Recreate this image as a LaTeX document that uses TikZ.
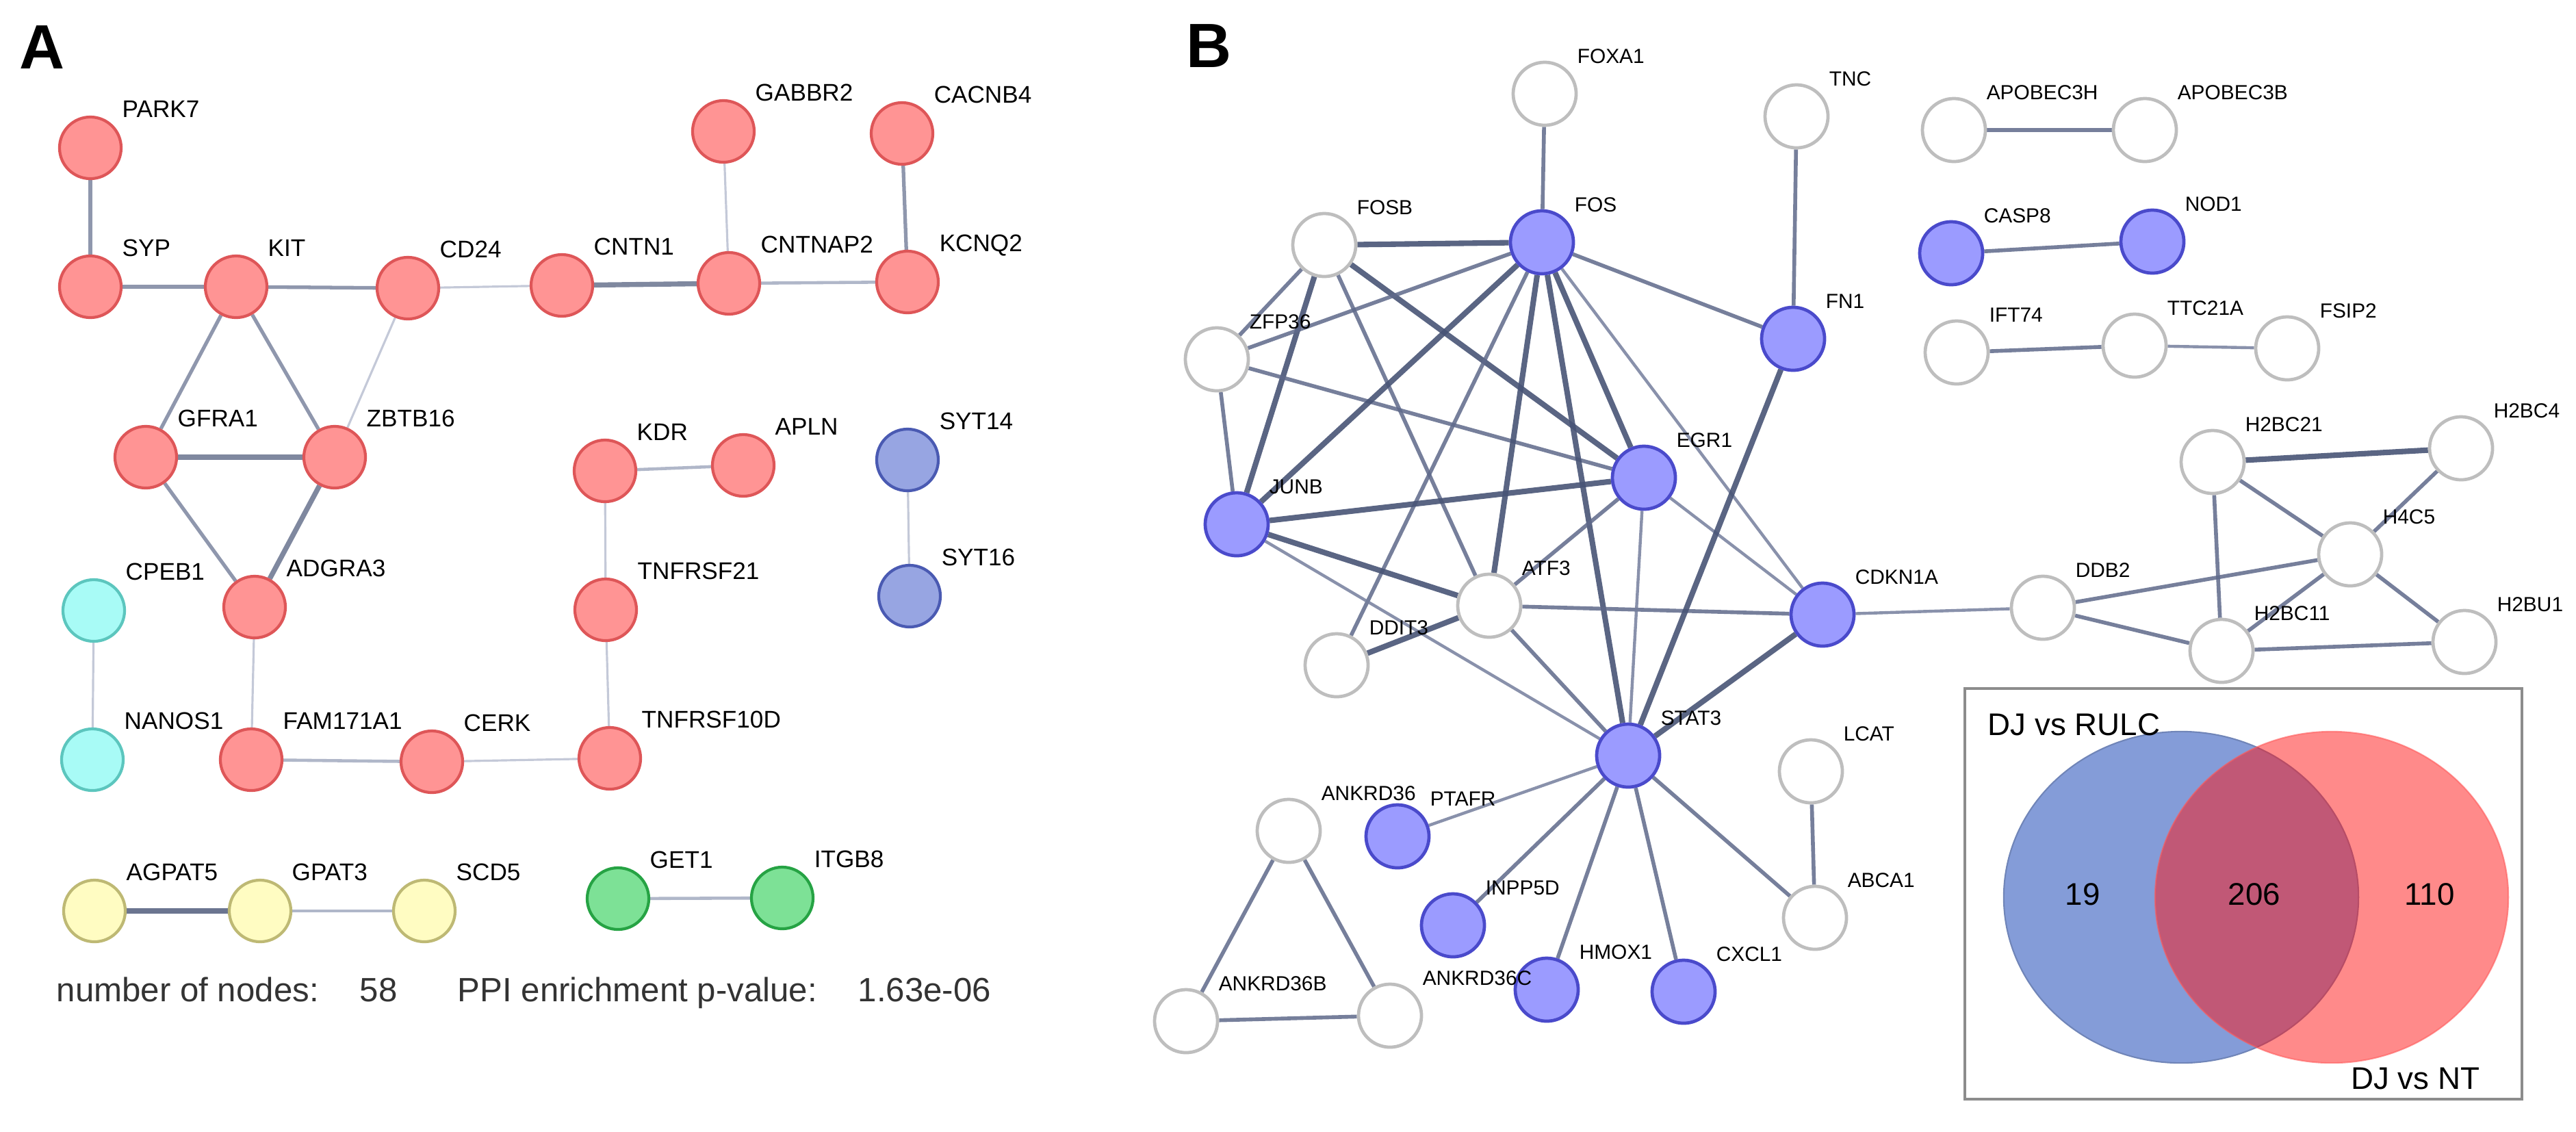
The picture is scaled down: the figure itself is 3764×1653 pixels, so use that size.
\documentclass[tikz,border=0pt]{standalone}
\usepackage{fontspec}
\setmainfont{Liberation Sans}
\usepackage{xcolor}
\usepackage{tikz}
\usetikzlibrary{calc}
\usetikzlibrary{positioning}
\usetikzlibrary{shapes.geometric}

\definecolor{redfill}{RGB}{255,148,148}
\definecolor{redline}{RGB}{222,86,88}
\definecolor{cyanfill}{RGB}{168,251,246}
\definecolor{cyanline}{RGB}{92,198,190}
\definecolor{slatefill}{RGB}{151,165,226}
\definecolor{slateline}{RGB}{74,90,178}
\definecolor{yelfill}{RGB}{255,252,194}
\definecolor{yelline}{RGB}{190,185,116}
\definecolor{grnfill}{RGB}{125,225,150}
\definecolor{grnline}{RGB}{38,163,68}
\definecolor{bluefill}{RGB}{155,155,255}
\definecolor{blueline}{RGB}{74,74,203}
\definecolor{greyline}{RGB}{190,190,190}
\definecolor{edgeA0}{RGB}{107,117,144}
\definecolor{edgeA1}{RGB}{127,136,159}
\definecolor{edgeA2}{RGB}{143,151,173}
\definecolor{edgeA3}{RGB}{176,183,201}
\definecolor{edgeA4}{RGB}{196,201,216}
\definecolor{edgeB1}{RGB}{72,84,118}
\definecolor{edgeB2}{RGB}{94,105,138}
\definecolor{edgeB3}{RGB}{116,126,156}
\definecolor{vennblue}{RGB}{132,156,216}
\definecolor{vennred}{RGB}{255,21,21}

\pgfdeclarelayer{edges}
\pgfsetlayers{edges,main}

\tikzset{>=latex}
\tikzstyle{geneA} = [circle, inner sep = 0, minimum size = 0.9cm, line width = 1.2pt]
\tikzstyle{redg} = [geneA, draw = redline, fill = redfill]
\tikzstyle{cyang} = [geneA, draw = cyanline, fill = cyanfill]
\tikzstyle{slateg} = [geneA, draw = slateline, fill = slatefill]
\tikzstyle{yelg} = [geneA, draw = yelline, fill = yelfill]
\tikzstyle{grng} = [geneA, draw = grnline, fill = grnfill]
\tikzstyle{geneB} = [circle, inner sep = 0, minimum size = 0.92cm, line width = 1.35pt]
\tikzstyle{blueg} = [geneB, draw = blueline, fill = bluefill]
\tikzstyle{greyg} = [geneB, draw = greyline, fill = white]
\tikzset{tagA/.style = {label = {[font = \fontsize{10}{12}\selectfont, anchor = base west, inner sep = 0, xshift = 0.46cm, yshift = -0.03cm]90:#1}}}
\tikzset{tagB/.style = {label = {[font = \fontsize{8.5}{10}\selectfont, anchor = base west, inner sep = 0, xshift = 0.47cm, yshift = -0.04cm]90:#1}}}
\tikzstyle{ea0} = [draw = edgeA0, line width = 2.3pt]
\tikzstyle{ea1} = [draw = edgeA1, line width = 2.1pt]
\tikzstyle{ea2} = [draw = edgeA2, line width = 1.5pt]
\tikzstyle{ea3} = [draw = edgeA3, line width = 1.3pt]
\tikzstyle{ea4} = [draw = edgeA4, line width = 0.9pt]
\tikzstyle{eb1} = [draw = edgeB1, line width = 2.3pt, draw opacity = 0.9]
\tikzstyle{eb2} = [draw = edgeB2, line width = 1.6pt, draw opacity = 0.85]
\tikzstyle{eb3} = [draw = edgeB3, line width = 1.25pt, draw opacity = 0.85]
\tikzstyle{panel} = [font = \fontsize{26}{28}\selectfont\bfseries, inner sep = 0, anchor = base west]
\tikzstyle{stat} = [font = \fontsize{14}{16}\selectfont, text = black!80, inner sep = 0, anchor = base west]
\tikzstyle{venn} = [font = \fontsize{13}{15}\selectfont, inner sep = 0]

\begin{document}
\begin{tikzpicture}[x = 0.01cm, y = -0.01cm]
\useasboundingbox (0, 0) rectangle (3764, 1653);

% panel A
\node [panel] (labA) at (28, 100) {A};
\begin{scope}
\clip (0, 0) rectangle (1508, 1653);
\node [redg, tagA = PARK7] (PARK7) at (132, 216) {};
\node [redg, tagA = SYP] (SYP) at (132, 419) {};
\node [redg, tagA = KIT] (KIT) at (345, 419) {};
\node [redg, tagA = CD24] (CD24) at (596, 421) {};
\node [redg, tagA = CNTN1] (CNTN1) at (821, 417) {};
\node [redg, tagA = CNTNAP2] (CNTNAP2) at (1065, 414) {};
\node [redg, tagA = GABBR2] (GABBR2) at (1057, 192) {};
\node [redg, tagA = CACNB4] (CACNB4) at (1318, 195) {};
\node [redg, tagA = KCNQ2] (KCNQ2) at (1326, 412) {};
\node [redg, tagA = GFRA1] (GFRA1) at (213, 668) {};
\node [redg, tagA = ZBTB16] (ZBTB16) at (489, 668) {};
\node [redg, tagA = ADGRA3] (ADGRA3) at (372, 887) {};
\node [cyang, tagA = CPEB1] (CPEB1) at (137, 892) {};
\node [cyang, tagA = NANOS1] (NANOS1) at (135, 1110) {};
\node [redg, tagA = FAM171A1] (FAM171A1) at (367, 1110) {};
\node [redg, tagA = CERK] (CERK) at (631, 1113) {};
\node [redg, tagA = TNFRSF10D] (TNFRSF10D) at (891, 1108) {};
\node [redg, tagA = KDR] (KDR) at (884, 688) {};
\node [redg, tagA = APLN] (APLN) at (1086, 680) {};
\node [redg, tagA = TNFRSF21] (TNFRSF21) at (885, 891) {};
\node [slateg, tagA = SYT14] (SYT14) at (1326, 672) {};
\node [slateg, tagA = SYT16] (SYT16) at (1329, 871) {};
\node [yelg, tagA = AGPAT5] (AGPAT5) at (138, 1331) {};
\node [yelg, tagA = GPAT3] (GPAT3) at (380, 1331) {};
\node [yelg, tagA = SCD5] (SCD5) at (620, 1331) {};
\node [grng, tagA = GET1] (GET1) at (903, 1313) {};
\node [grng, tagA = ITGB8] (ITGB8) at (1143, 1312) {};
\end{scope}
\node [stat] (nodesA) at (82, 1463) {number of nodes:};
\node [stat] (nodesV) at (525, 1463) {58};
\node [stat] (ppiA) at (668, 1463) {PPI enrichment p-value:};
\node [stat] (ppiV) at (1253, 1463) {1.63e-06};

\begin{pgfonlayer}{edges}
\draw [ea2] (PARK7) to (SYP);
\draw [ea2] (SYP) to (KIT);
\draw [ea2] (KIT) to (CD24);
\draw [ea4] (CD24) to (CNTN1);
\draw [ea1] (CNTN1) to (CNTNAP2);
\draw [ea3] (CNTNAP2) to (KCNQ2);
\draw [ea4] (GABBR2) to (CNTNAP2);
\draw [ea2] (CACNB4) to (KCNQ2);
\draw [ea2] (KIT) to (GFRA1);
\draw [ea2] (KIT) to (ZBTB16);
\draw [ea4] (CD24) to (ZBTB16);
\draw [ea1] (GFRA1) to (ZBTB16);
\draw [ea2] (GFRA1) to (ADGRA3);
\draw [ea1] (ZBTB16) to (ADGRA3);
\draw [ea4] (ADGRA3) to (FAM171A1);
\draw [ea4] (CPEB1) to (NANOS1);
\draw [ea3] (FAM171A1) to (CERK);
\draw [ea4] (CERK) to (TNFRSF10D);
\draw [ea3] (KDR) to (APLN);
\draw [ea4] (KDR) to (TNFRSF21);
\draw [ea4] (TNFRSF21) to (TNFRSF10D);
\draw [ea4] (SYT14) to (SYT16);
\draw [ea0] (AGPAT5) to (GPAT3);
\draw [ea3] (GPAT3) to (SCD5);
\draw [ea3] (GET1) to (ITGB8);
\end{pgfonlayer}

% panel B
\node [panel] (labB) at (1733, 98) {B};
\node [greyg, tagB = FOXA1] (FOXA1) at (2257, 137) {};
\node [greyg, tagB = TNC] (TNC) at (2625, 170) {};
\node [greyg, tagB = APOBEC3H] (APOBEC3H) at (2855, 190) {};
\node [greyg, tagB = APOBEC3B] (APOBEC3B) at (3134, 190) {};
\node [greyg, tagB = FOSB] (FOSB) at (1935, 358) {};
\node [blueg, tagB = FOS] (FOS) at (2253, 354) {};
\node [blueg, tagB = CASP8] (CASP8) at (2851, 370) {};
\node [blueg, tagB = NOD1] (NOD1) at (3145, 353) {};
\node [blueg, tagB = FN1] (FN1) at (2620, 495) {};
\node [greyg, tagB = IFT74] (IFT74) at (2859, 515) {};
\node [greyg, tagB = TTC21A] (TTC21A) at (3119, 505) {};
\node [greyg, tagB = FSIP2] (FSIP2) at (3342, 509) {};
\node [greyg, tagB = ZFP36] (ZFP36) at (1778, 525) {};
\node [blueg, tagB = EGR1] (EGR1) at (2402, 698) {};
\node [blueg, tagB = JUNB] (JUNB) at (1807, 766) {};
\node [greyg, tagB = ATF3] (ATF3) at (2176, 885) {};
\node [blueg, tagB = CDKN1A] (CDKN1A) at (2663, 898) {};
\node [greyg, tagB = DDIT3] (DDIT3) at (1953, 972) {};
\node [greyg, tagB = DDB2] (DDB2) at (2985, 888) {};
\node [greyg, tagB = H2BC21] (H2BC21) at (3233, 675) {};
\node [greyg, tagB = H2BC4] (H2BC4) at (3596, 655) {};
\node [greyg, tagB = H4C5] (H4C5) at (3434, 810) {};
\node [greyg, tagB = H2BC11] (H2BC11) at (3246, 951) {};
\node [greyg, tagB = H2BU1] (H2BU1) at (3601, 938) {};
\node [blueg, tagB = STAT3] (STAT3) at (2379, 1104) {};
\node [greyg, tagB = LCAT] (LCAT) at (2646, 1127) {};
\node [greyg, tagB = ABCA1] (ABCA1) at (2652, 1341) {};
\node [greyg, tagB = ANKRD36] (ANKRD36) at (1883, 1214) {};
\node [blueg, tagB = PTAFR] (PTAFR) at (2042, 1222) {};
\node [blueg, tagB = INPP5D] (INPP5D) at (2123, 1352) {};
\node [blueg, tagB = HMOX1] (HMOX1) at (2260, 1446) {};
\node [blueg, tagB = CXCL1] (CXCL1) at (2460, 1449) {};
\node [greyg, tagB = ANKRD36B] (ANKRD36B) at (1733, 1492) {};
\node [greyg, tagB = ANKRD36C] (ANKRD36C) at (2031, 1484) {};

\begin{pgfonlayer}{edges}
\draw [eb2] (FOXA1) to (FOS);
\draw [eb2] (TNC) to (FN1);
\draw [eb2] (APOBEC3H) to (APOBEC3B);
\draw [eb2] (CASP8) to (NOD1);
\draw [eb2] (IFT74) to (TTC21A);
\draw [eb3] (TTC21A) to (FSIP2);
\draw [eb1] (FOSB) to (FOS);
\draw [eb2] (FOSB) to (ZFP36);
\draw [eb1] (FOSB) to (JUNB);
\draw [eb2] (FOSB) to (ATF3);
\draw [eb1] (FOSB) to (EGR1);
\draw [eb2] (ZFP36) to (FOS);
\draw [eb2] (ZFP36) to (JUNB);
\draw [eb2] (ZFP36) to (EGR1);
\draw [eb1] (FOS) to (JUNB);
\draw [eb2] (FOS) to (DDIT3);
\draw [eb1] (FOS) to (ATF3);
\draw [eb1] (FOS) to (STAT3);
\draw [eb1] (FOS) to (EGR1);
\draw [eb3] (FOS) to (CDKN1A);
\draw [eb2] (FOS) to (FN1);
\draw [eb1] (JUNB) to (EGR1);
\draw [eb1] (JUNB) to (ATF3);
\draw [eb3] (JUNB) to (STAT3);
\draw [eb1] (ATF3) to (DDIT3);
\draw [eb2] (ATF3) to (EGR1);
\draw [eb2] (ATF3) to (CDKN1A);
\draw [eb2] (ATF3) to (STAT3);
\draw [eb3] (EGR1) to (STAT3);
\draw [eb3] (EGR1) to (CDKN1A);
\draw [eb1] (FN1) to (STAT3);
\draw [eb1] (CDKN1A) to (STAT3);
\draw [eb3] (CDKN1A) to (DDB2);
\draw [eb3] (STAT3) to (PTAFR);
\draw [eb2] (STAT3) to (INPP5D);
\draw [eb2] (STAT3) to (HMOX1);
\draw [eb2] (STAT3) to (CXCL1);
\draw [eb2] (STAT3) to (ABCA1);
\draw [eb2] (LCAT) to (ABCA1);
\draw [eb2] (DDB2) to (H4C5);
\draw [eb2] (DDB2) to (H2BC11);
\draw [eb1] (H2BC21) to (H2BC4);
\draw [eb2] (H2BC21) to (H4C5);
\draw [eb2] (H2BC21) to (H2BC11);
\draw [eb2] (H2BC4) to (H4C5);
\draw [eb2] (H4C5) to (H2BC11);
\draw [eb2] (H4C5) to (H2BU1);
\draw [eb2] (H2BC11) to (H2BU1);
\draw [eb2] (ANKRD36) to (ANKRD36B);
\draw [eb2] (ANKRD36) to (ANKRD36C);
\draw [eb2] (ANKRD36B) to (ANKRD36C);
\end{pgfonlayer}

% venn inset
\draw [draw = black!45, line width = 0.9pt] (2871, 1006) rectangle (3685, 1606);
\filldraw [fill = vennblue, draw = vennblue!85!black, line width = 0.6pt] (3187, 1311) ellipse [x radius = 2.59cm, y radius = 2.42cm];
\filldraw [fill = vennred, fill opacity = 0.5, draw = vennred!70, draw opacity = 0.6, line width = 0.6pt] (3407, 1311) ellipse [x radius = 2.58cm, y radius = 2.42cm];
\node [venn, anchor = base west] (setRULC) at (2904, 1074) {DJ vs RULC};
\node [venn, anchor = base east] (setNT) at (3624, 1591) {DJ vs NT};
\node [venn] (onlyRULC) at (3043, 1307) {19};
\node [venn] (both) at (3294, 1307) {206};
\node [venn] (onlyNT) at (3550, 1307) {110};
\end{tikzpicture}
\end{document}
